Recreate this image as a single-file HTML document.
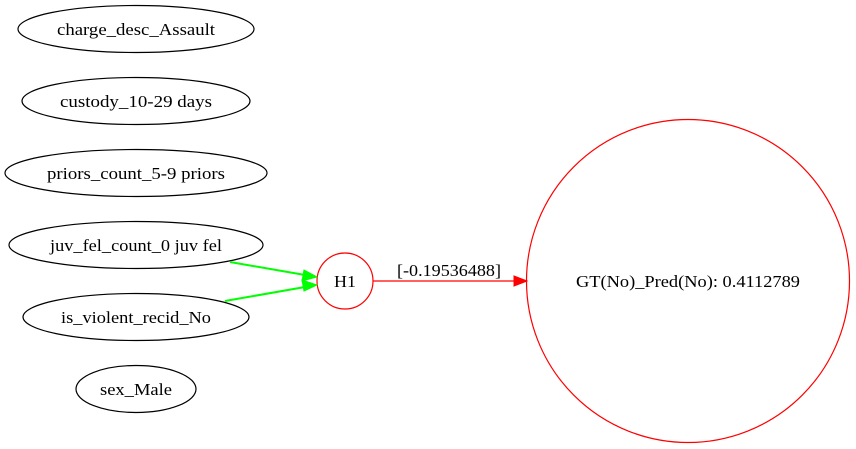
<!DOCTYPE html>
<html><head><style>html,body{margin:0;padding:0;background:#fff}svg{display:block}</style></head>
<body>
<svg width="856" height="449" viewBox="0 0 856 449" xmlns="http://www.w3.org/2000/svg" font-family="'Liberation Serif', serif" font-size="17">
<rect width="856" height="449" fill="#fff"/>
<g fill="none" stroke="#000" stroke-width="1.2">
<ellipse cx="136" cy="29" rx="118" ry="23.5"/>
<ellipse cx="136" cy="101" rx="114" ry="23.5"/>
<ellipse cx="136" cy="173" rx="131" ry="23.5"/>
<ellipse cx="136" cy="245" rx="127" ry="23.5"/>
<ellipse cx="136" cy="317" rx="113" ry="23.5"/>
<ellipse cx="136" cy="389" rx="60" ry="23.5"/>
</g>
<g text-anchor="middle" fill="#000" lengthAdjust="spacingAndGlyphs">
<text x="136" y="35" textLength="158" lengthAdjust="spacingAndGlyphs">charge_desc_Assault</text>
<text x="136" y="107" textLength="152" lengthAdjust="spacingAndGlyphs">custody_10-29 days</text>
<text x="136" y="179" textLength="178" lengthAdjust="spacingAndGlyphs">priors_count_5-9 priors</text>
<text x="136" y="251" textLength="172" lengthAdjust="spacingAndGlyphs">juv_fel_count_0 juv fel</text>
<text x="136" y="323" textLength="150" lengthAdjust="spacingAndGlyphs">is_violent_recid_No</text>
<text x="136" y="395" textLength="72" lengthAdjust="spacingAndGlyphs">sex_Male</text>
<text x="345" y="287" textLength="22" lengthAdjust="spacingAndGlyphs">H1</text>
<text x="688" y="287" textLength="224" lengthAdjust="spacingAndGlyphs">GT(No)_Pred(No): 0.4112789</text>
<text x="449" y="276" textLength="104" lengthAdjust="spacingAndGlyphs">[-0.19536488]</text>
</g>
<circle cx="345" cy="281" r="28" fill="none" stroke="#f00" stroke-width="1.2"/>
<circle cx="688" cy="281" r="161.5" fill="none" stroke="#f00" stroke-width="1.2"/>
<g stroke="#0f0" stroke-width="2" fill="#0f0">
<line x1="230" y1="262" x2="305" y2="275"/>
<polygon points="317,277 304,270 302,281" stroke-width="1"/>
<line x1="225" y1="301" x2="305" y2="287"/>
<polygon points="317,285 302,280 304,291" stroke-width="1"/>
</g>
<line x1="373" y1="281" x2="514" y2="281" stroke="#f00" stroke-width="1.2"/>
<polygon points="527,281 514,276 514,286" fill="#f00" stroke="#f00"/>
</svg>
</body></html>
